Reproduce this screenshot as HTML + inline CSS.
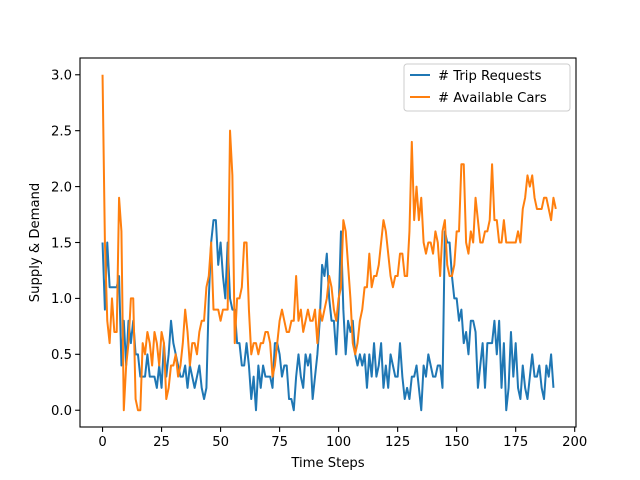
<!DOCTYPE html>
<html><head><meta charset="utf-8"><style>
body{margin:0;background:#fff}
svg{display:block;font-family:"DejaVu Sans","Liberation Sans",sans-serif}
</style></head><body>
<svg id="chart" width="640" height="480">
<rect x="0" y="0" width="640" height="480" fill="#fff"/>
<g id="plot"></g>
</svg>
<script>
const trips=[1.5,0.9,1.5,1.1,1.1,1.1,1.1,1.2,0.4,0.8,0.4,0.8,0.6,0.8,0.5,0.5,0.3,0.3,0.3,0.5,0.3,0.3,0.3,0.2,0.4,0.2,0.6,0.3,0.5,0.8,0.6,0.5,0.4,0.3,0.3,0.4,0.2,0.4,0.3,0.2,0.3,0.4,0.2,0.1,0.2,1.0,1.5,1.7,1.7,1.3,1.5,1.2,1.0,1.5,1.0,0.9,0.9,0.6,0.6,0.4,0.4,0.6,0.4,0.1,0.3,0.0,0.4,0.2,0.4,0.3,0.3,0.3,0.2,0.6,0.6,0.5,0.3,0.4,0.4,0.1,0.1,0.0,0.3,0.5,0.3,0.2,0.5,0.4,0.5,0.1,0.3,0.5,0.8,1.3,1.2,1.4,1.0,0.8,0.8,0.5,0.9,1.6,0.9,0.5,0.8,0.7,0.8,0.5,0.4,0.5,0.4,0.5,0.2,0.5,0.3,0.6,0.3,0.4,0.6,0.2,0.4,0.2,0.5,0.4,0.3,0.3,0.6,0.3,0.1,0.2,0.1,0.3,0.3,0.4,0.2,0.0,0.4,0.3,0.5,0.4,0.3,0.3,0.4,0.4,0.2,1.6,1.5,1.5,1.2,1.0,1.0,0.8,0.9,0.6,0.7,0.5,0.8,0.8,0.7,0.2,0.4,0.6,0.2,0.6,0.6,0.6,0.8,0.5,0.8,0.2,0.6,0.0,0.2,0.7,0.3,0.6,0.2,0.1,0.4,0.2,0.1,0.3,0.5,0.3,0.3,0.4,0.2,0.1,0.4,0.3,0.5,0.2];
const cars=[3.0,1.5,0.8,0.6,1.0,0.7,0.7,1.9,1.6,0.0,0.4,0.6,1.0,1.0,0.1,0.0,0.0,0.6,0.5,0.7,0.6,0.4,0.7,0.6,0.4,0.7,0.6,0.1,0.2,0.4,0.4,0.5,0.3,0.4,0.6,0.9,0.7,0.4,0.6,0.6,0.5,0.7,0.8,0.8,1.1,1.2,1.5,0.9,0.9,0.9,0.8,0.9,0.9,0.9,2.5,2.1,0.6,1.0,1.0,1.1,1.5,1.5,0.9,0.5,0.6,0.6,0.5,0.6,0.6,0.7,0.7,0.6,0.3,0.4,0.6,0.8,0.9,0.8,0.7,0.7,0.8,0.8,1.2,0.8,0.9,0.7,0.8,0.9,0.8,0.8,0.9,0.6,0.9,0.8,0.9,1.0,1.2,1.1,0.9,0.8,1.0,1.1,1.7,1.6,1.3,1.0,0.6,0.5,0.6,0.8,0.9,1.1,1.1,1.4,1.1,1.2,1.2,1.3,1.5,1.7,1.6,1.4,1.2,1.1,1.2,1.2,1.4,1.4,1.2,1.2,1.6,2.4,1.7,2.0,1.7,1.9,1.5,1.4,1.5,1.5,1.4,1.6,1.5,1.2,1.6,1.7,1.3,1.2,1.2,1.3,1.6,1.6,2.2,2.2,1.5,1.4,1.6,1.5,1.9,1.7,1.5,1.5,1.6,1.6,1.7,2.2,1.7,1.7,1.5,1.5,1.7,1.5,1.5,1.5,1.5,1.5,1.6,1.5,1.8,1.9,2.1,2.0,2.1,1.9,1.8,1.8,1.8,1.9,1.9,1.8,1.7,1.9,1.8];
const xTicks=[0,25,50,75,100,125,150,175,200];
const yTicks=[0.0,0.5,1.0,1.5,2.0,2.5,3.0];
const seriesNames=["# Trip Requests","# Available Cars"];

const L=80,R=576,T=58,B=427,XMIN=-9.55,XMAX=200.55,YMIN=-0.15,YMAX=3.15;
const FS=13.2;
const sx=v=>L+(v-XMIN)/(XMAX-XMIN)*(R-L);
const sy=v=>B-(v-YMIN)/(YMAX-YMIN)*(B-T);
const NS="http://www.w3.org/2000/svg";
const g=document.getElementById('plot');
function mk(t,a,p){const e=document.createElementNS(NS,t);for(const k in a)e.setAttribute(k,a[k]);(p||g).appendChild(e);return e;}

xTicks.forEach(v=>{
  const t=mk('line',{x1:sx(v),x2:sx(v),y1:B,y2:B+4.9,stroke:'#000','stroke-width':1.1});
  
  
  const l=mk('text',{x:sx(v),y:B+19,'text-anchor':'middle','font-size':FS,fill:'#000'});
  l.textContent=v;
  
  
});
yTicks.forEach(v=>{
  const t=mk('line',{x1:L-4.9,x2:L,y1:sy(v),y2:sy(v),stroke:'#000','stroke-width':1.1});
  
  
  const l=mk('text',{x:L-8,y:sy(v)+4.8,'text-anchor':'end','font-size':FS,fill:'#000'});
  l.textContent=v.toFixed(1);
  
  
});

function line(data,color,name){
  const p=mk('polyline',{points:data.map((v,i)=>sx(i)+','+sy(v)).join(' '),fill:'none',stroke:color,'stroke-width':2,'stroke-linejoin':'round'});
  
  
}
line(trips,'#1f77b4','trip-requests-line');
line(cars,'#ff7f0e','available-cars-line');

const frame=mk('rect',{x:L,y:T,width:R-L,height:B-T,fill:'none',stroke:'#000','stroke-width':1.1});



const xt=mk('text',{x:(L+R)/2,y:467,'text-anchor':'middle','font-size':FS});
xt.textContent='Time Steps';


const yt=mk('text',{x:0,y:0,'text-anchor':'middle','font-size':FS,transform:'translate(39,'+((T+B)/2)+') rotate(-90)'});
yt.textContent='Supply & Demand';



const lg=mk('g',{});


mk('rect',{x:404,y:64,width:166,height:47,rx:3,fill:'#fff','fill-opacity':0.8,stroke:'#ccc','stroke-width':1},lg);
['#1f77b4','#ff7f0e'].forEach((c,i)=>{
  const y=75+i*22;
  const s=mk('line',{x1:410,x2:430,y1:y,y2:y,stroke:c,'stroke-width':2},lg);
  
  
  const t=mk('text',{x:438,y:y+4.8,'font-size':FS},lg);
  t.textContent=seriesNames[i];
  
  
});
</script>
</body></html>
